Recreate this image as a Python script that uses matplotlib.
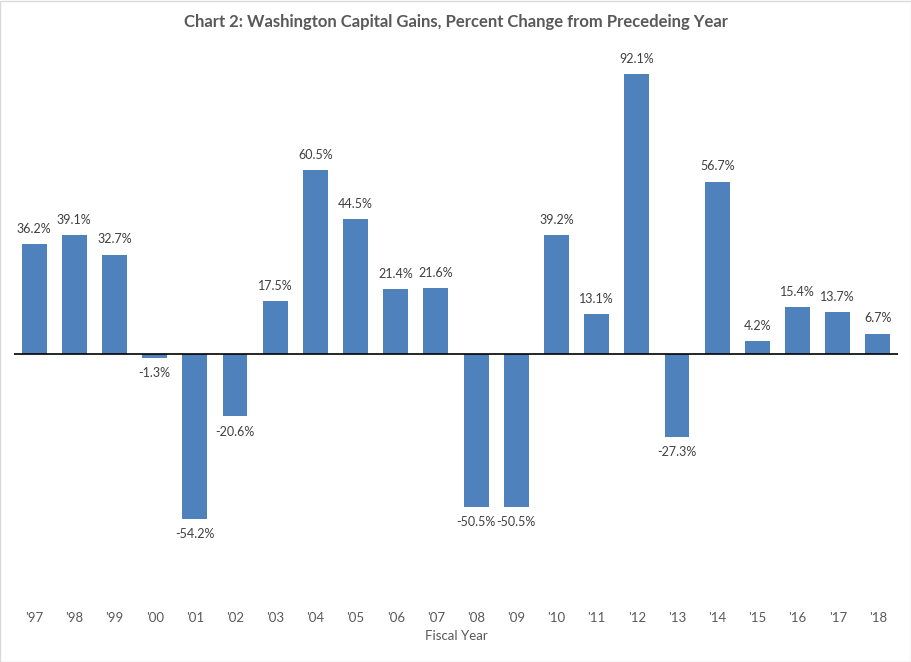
import matplotlib
matplotlib.use("Agg")
from matplotlib import pyplot as plt
from matplotlib.patches import Rectangle

years = ["'97", "'98", "'99", "'00", "'01", "'02", "'03", "'04", "'05", "'06", "'07",
         "'08", "'09", "'10", "'11", "'12", "'13", "'14", "'15", "'16", "'17", "'18"]
changes = [36.2, 39.1, 32.7, -1.3, -54.2, -20.6, 17.5, 60.5, 44.5, 21.4, 21.6,
           -50.5, -50.5, 39.2, 13.1, 92.1, -27.3, 56.7, 4.2, 15.4, 13.7, 6.7]

plt.rcParams["font.family"] = ["Lato", "DejaVu Sans"]

fig = plt.figure(figsize=(9.12, 6.62), dpi=100)
W, H = 912, 662
ax = fig.add_axes([14 / W, 1 - 597 / H, (898 - 14) / W, (597 - 50) / H])

x = list(range(len(years)))
ax.bar(x, changes, width=0.62, color="#4F81BD", zorder=2)
ax.axhline(0, color="black", linewidth=1.2, zorder=3)

for xi, v in zip(x, changes):
    if v >= 0:
        ax.text(xi, v + 3, f"{v:.1f}%", ha="center", va="bottom",
                fontsize=9, color="#404040")
    else:
        ax.text(xi, v - 3, f"{v:.1f}%", ha="center", va="top",
                fontsize=9, color="#404040")

ax.set_xlim(-0.5, 21.5)
ax.set_ylim(-80, 100)
ax.set_xticks(x)
ax.set_xticklabels(years, fontsize=9.5, color="#595959")
ax.tick_params(axis="x", length=0, pad=11)
ax.set_yticks([])
for s in ax.spines.values():
    s.set_visible(False)
ax.set_xlabel("Fiscal Year", fontsize=9.5, color="#595959", labelpad=4)

fig.suptitle("Chart 2: Washington Capital Gains, Percent Change from Precedeing Year",
             x=0.5, y=1 - 22 / H, va="center", fontsize=12, fontweight="bold",
             color="#595959")

fig.patches.append(Rectangle((0.5 / W, 0.5 / H), 1 - 1.5 / W, 1 - 1.5 / H,
                             transform=fig.transFigure, fill=False,
                             edgecolor="#D9D9D9", linewidth=1))

fig.savefig("out.png", dpi=100)
